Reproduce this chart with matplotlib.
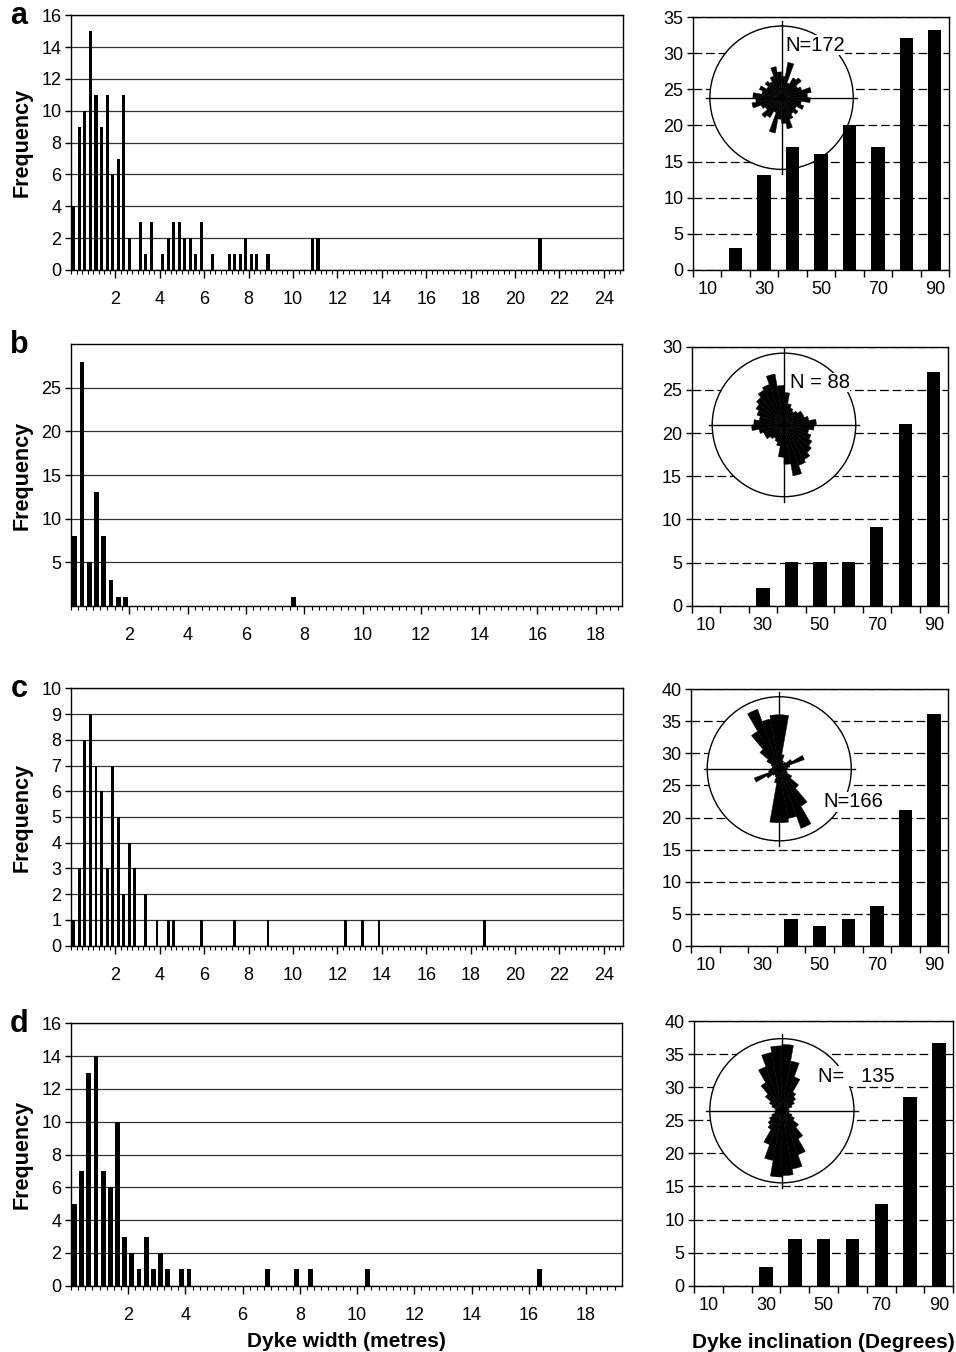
import matplotlib.pyplot as plt
import matplotlib.transforms as mtransforms
from matplotlib.patches import Circle, Wedge
import numpy as np

plt.rcParams['font.family'] = ['Liberation Sans', 'DejaVu Sans']
plt.rcParams['axes.linewidth'] = 1.0

# ---- dyke width histograms (0.25 m bins, only non-empty bins listed) ----
BIN = 0.25
a_bins = [0, 1, 2, 3, 4, 5, 6, 7, 8, 9, 10, 12, 13, 14, 16, 17, 18, 19, 20, 21, 22, 23,
          25, 28, 29, 30, 31, 32, 33, 35, 43, 44, 84]
a_freq = [4, 9, 10, 15, 11, 9, 11, 6, 7, 11, 2, 3, 1, 3, 1, 2, 3, 3, 2, 2, 1, 3,
          1, 1, 1, 1, 2, 1, 1, 1, 2, 2, 2]
b_bins = [0, 1, 2, 3, 4, 5, 6, 7, 30]
b_freq = [8, 28, 5, 13, 8, 3, 1, 1, 1]
c_bins = [0, 1, 2, 3, 4, 5, 6, 7, 8, 9, 10, 11, 13, 15, 17, 18, 23, 29, 35, 49, 52, 55, 74]
c_freq = [1, 3, 8, 9, 7, 6, 3, 7, 5, 2, 4, 3, 2, 1, 1, 1, 1, 1, 1, 1, 1, 1, 1]
d_bins = [0, 1, 2, 3, 4, 5, 6, 7, 8, 9, 10, 11, 12, 13, 15, 16, 27, 31, 33, 41, 65]
d_freq = [5, 7, 13, 14, 7, 6, 10, 3, 2, 1, 3, 1, 2, 1, 1, 1, 1, 1, 1, 1, 1]

# ---- dyke inclination histograms ----
incl_cats = [10, 20, 30, 40, 50, 60, 70, 80, 90]
a_incl = [0, 3.1, 13.2, 17.0, 16.0, 20.1, 17.0, 32.1, 33.2]
b_incl = [0, 0, 2.1, 5.1, 5.1, 5.1, 9.1, 21.1, 27.1]
c_incl = [0, 0, 0, 4.2, 3.1, 4.2, 6.2, 21.2, 36.2]
d_incl = [0, 0, 2.9, 7.0, 7.0, 7.0, 12.3, 28.5, 36.7]

# ---- rose diagrams: petal length (fraction of radius) per 10 deg sector 0-180, mirrored ----
a_rose = [0.30, 0.50, 0.22, 0.32, 0.36, 0.26, 0.30, 0.42, 0.36,
          0.40, 0.28, 0.33, 0.24, 0.30, 0.26, 0.32, 0.44, 0.36]
b_rose = [0.45, 0.30, 0.25, 0.22, 0.25, 0.30, 0.30, 0.35, 0.45,
          0.42, 0.35, 0.40, 0.45, 0.50, 0.56, 0.60, 0.72, 0.55]
c_rose = [0.75, 0.20, 0.12, 0.10, 0.12, 0.20, 0.37, 0.15, 0.12,
          0.10, 0.10, 0.12, 0.20, 0.35, 0.60, 0.88, 0.70, 0.75]
d_rose = [0.92, 0.70, 0.50, 0.30, 0.25, 0.20, 0.15, 0.10, 0.10,
          0.08, 0.10, 0.15, 0.20, 0.30, 0.45, 0.65, 0.82, 0.90]
n_labels = ['N=172', 'N = 88', 'N=166', 'N=   135']

W, H = 956, 1352
fig = plt.figure(figsize=(W / 100, H / 100), dpi=100)
TICK_FS = 13


def frac(l, t, r, b):
    return [l / W, 1 - b / H, (r - l) / W, (b - t) / H]


def width_panel(ax, bins, freq, xmax, ymax, yticks, bw):
    x = (np.array(bins) + 0.5) * BIN
    ax.bar(x, freq, width=bw, color='black', zorder=2)
    ax.set_xlim(0, xmax)
    ax.set_ylim(0, ymax)
    ax.set_yticks(yticks)
    ax.set_xticks(np.arange(2, xmax, 2))
    ax.set_xticks(np.arange(0, xmax, BIN), minor=True)
    ax.yaxis.grid(True, color='#333333', lw=0.9)
    ax.set_axisbelow(True)
    ax.tick_params(axis='x', which='major', length=6, width=1, labelsize=TICK_FS, pad=9)
    ax.tick_params(axis='x', which='minor', length=3, width=0.8)
    ax.tick_params(axis='y', length=4, width=1, labelsize=TICK_FS, pad=3)
    ax.set_ylabel('Frequency', fontsize=15.5, fontweight='bold')
    ax.yaxis.set_label_coords(-0.07, 0.5)


def incl_panel(ax, vals, ymax, rose, label, cx, cy, r, tx, ty):
    ax.bar(incl_cats, vals, width=4.7, color='black', zorder=2)
    ax.set_xlim(5, 95)
    ax.set_ylim(0, ymax)
    ax.set_yticks(np.arange(0, ymax + 1, 5))
    ax.set_xticks([10, 30, 50, 70, 90])
    ax.set_xticks(np.arange(5, 96, 10), minor=True)
    ax.yaxis.grid(True, color='black', lw=0.9, linestyle=(0, (7, 3)))
    ax.set_axisbelow(True)
    ax.tick_params(axis='x', which='major', length=0, labelsize=TICK_FS, pad=8)
    ax.tick_params(axis='x', which='minor', length=5, width=1)
    ax.tick_params(axis='y', length=4, width=1, labelsize=TICK_FS, pad=3)

    pos = ax.get_position()
    aspect = (pos.width * W) / (pos.height * H)
    tr = mtransforms.Affine2D().scale(r, r * aspect).translate(cx, cy) + ax.transAxes
    ax.add_patch(Circle((0, 0), 1, transform=tr, fc='white', ec='black', lw=1.0,
                        zorder=1, clip_on=False))
    ax.plot([-1.05, 1.05], [0, 0], transform=tr, color='black', lw=1.0, zorder=3,
            clip_on=False)
    ax.plot([0, 0], [-1.07, 1.07], transform=tr, color='black', lw=1.0, zorder=3,
            clip_on=False)
    for k in range(36):
        length = rose[k % 18]
        az1, az2 = 10 * k, 10 * k + 10
        ax.add_patch(Wedge((0, 0), length, 90 - az2, 90 - az1, transform=tr,
                           fc='black', ec='black', lw=0.3, zorder=3, clip_on=False))
    ax.text(tx, ty, label, transform=tr, fontsize=14.5, ha='left', va='center',
            zorder=4, bbox=dict(fc='white', ec='none', pad=0.3))


left_boxes = [(71, 15.3, 622.7, 270), (71, 344.3, 622, 605.7),
              (71, 688.3, 622.7, 945.7), (71, 1023.3, 621.7, 1285.7)]
right_boxes = [(693, 17, 949, 270), (691.7, 346.7, 948, 605.7),
               (691, 689.3, 948.3, 945.7), (694, 1021, 953.3, 1285.7)]

axl = [fig.add_axes(frac(*b)) for b in left_boxes]
axr = [fig.add_axes(frac(*b)) for b in right_boxes]

width_panel(axl[0], a_bins, a_freq, 24.85, 16, np.arange(0, 17, 2), 0.14)
width_panel(axl[1], b_bins, b_freq, 18.9, 30, [5, 10, 15, 20, 25], 0.16)
width_panel(axl[2], c_bins, c_freq, 24.85, 10, np.arange(0, 11, 1), 0.13)
width_panel(axl[3], d_bins, d_freq, 19.25, 16, np.arange(0, 17, 2), 0.17)

incl_panel(axr[0], a_incl, 35, a_rose, n_labels[0], 0.346, 0.681, 0.28, 0.05, 0.73)
incl_panel(axr[1], b_incl, 30, b_rose, n_labels[1], 0.36, 0.698, 0.28, 0.08, 0.59)
incl_panel(axr[2], c_incl, 40, c_rose, n_labels[2], 0.343, 0.69, 0.28, 0.61, -0.46)
incl_panel(axr[3], d_incl, 40, d_rose, n_labels[3], 0.339, 0.661, 0.278, 0.50, 0.48)

axl[3].set_xlabel('Dyke width (metres)', fontsize=15, fontweight='bold', labelpad=6)
axr[3].set_xlabel('Dyke inclination (Degrees)', fontsize=15, fontweight='bold', labelpad=14)

for letter, (l, t, r, b) in zip('abcd', left_boxes):
    fig.text(19 / W, 1 - (t + 1) / H, letter, fontsize=22, fontweight='bold',
             ha='center', va='center')

fig.savefig('out.png', dpi=100)
